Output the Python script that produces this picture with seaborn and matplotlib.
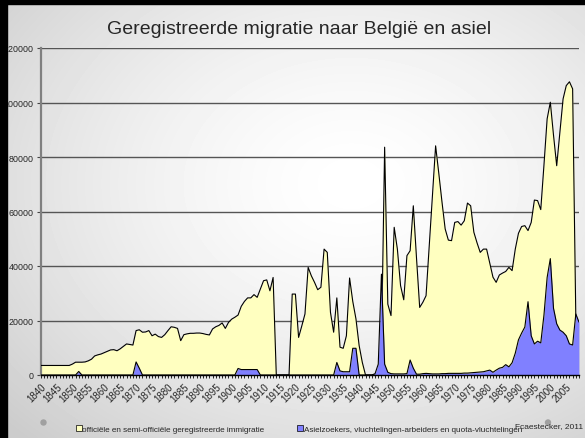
import numpy as np
import pandas as pd
import matplotlib
matplotlib.use("Agg")
import matplotlib.pyplot as plt
import seaborn as sns
from matplotlib.ticker import MultipleLocator
from matplotlib.patches import Patch, Rectangle, Ellipse

# jaren 1840-2009, waarden in duizendtallen
jaren = list(range(1840, 2010))

officieel = [
    3.5, 3.5, 3.5, 3.5, 3.5, 3.5, 3.5, 3.5, 3.5, 3.5,
    4.0, 4.7, 4.7, 4.7, 4.8, 5.2, 5.8, 7.0, 7.4, 7.7,
    8.2, 8.7, 9.2, 9.3, 8.9, 9.6, 10.5, 11.4, 11.2, 11.0,
    16.3, 16.6, 15.7, 15.8, 16.3, 14.4, 15.0, 14.1, 13.8, 14.8,
    16.3, 17.7, 17.5, 17.1, 12.6, 14.8, 15.1, 15.3, 15.3, 15.4,
    15.4, 15.2, 14.9, 14.7, 16.9, 17.7, 18.2, 19.1, 17.1, 19.3,
    20.5, 21.2, 22.0, 25.2, 27.0, 28.3, 28.3, 29.5, 28.5, 31.5,
    34.6, 34.9, 30.9, 35.8, 0, 0, 0, 0, 0, 29.7,
    29.7, 13.8, 18.0, 22.4, 39.5, 36.4, 34.0, 31.3, 32.2, 46.2,
    45.0, 23.0, 15.7, 28.3, 10.2, 9.8, 14.4, 35.6, 27.0, 20.6,
    10.8, 4.6, 0, 0, 0, 0, 0, 10.0, 83.6, 26.0,
    21.8, 54.2, 46.2, 32.8, 27.6, 43.8, 45.6, 62.1, 43.0, 24.8,
    26.7, 29.1, 47.4, 65.7, 84.1, 74.0, 63.5, 53.6, 49.5, 49.3,
    56.0, 56.3, 55.0, 56.6, 63.1, 62.1, 52.4, 48.5, 45.0, 46.2,
    46.2, 41.0, 35.9, 34.0, 36.7, 37.4, 38.0, 39.5, 38.3, 46.2,
    52.0, 54.5, 54.8, 53.0, 56.0, 64.2, 64.0, 60.7, 77.0, 94.0,
    100.1, 88.0, 76.8, 89.0, 101.3, 106.2, 107.6, 105.0, 21.0, 16.0,
]

asiel = [
    0, 0, 0, 0, 0, 0, 0, 0, 0, 0,
    0, 0, 1.3, 0, 0, 0, 0, 0, 0, 0,
    0, 0, 0, 0, 0, 0, 0, 0, 0, 0,
    4.8, 2.5, 0, 0, 0, 0, 0, 0, 0, 0,
    0, 0, 0, 0, 0, 0, 0, 0, 0, 0,
    0, 0, 0, 0, 0, 0, 0, 0, 0, 0,
    0, 0, 2.4, 2.0, 2.0, 2.0, 2.0, 2.0, 2.0, 0,
    0, 0, 0, 0, 0, 0, 0, 0, 0, 0,
    0, 0, 0, 0, 0, 0, 0, 0, 0, 0,
    0, 0, 0, 4.6, 1.5, 1.2, 1.2, 1.2, 9.8, 9.8,
    0, 0, 0, 0, 0, 0.5, 4.0, 37.0, 4.0, 1.0,
    0.5, 0.4, 0.4, 0.4, 0.4, 0.5, 5.5, 2.5, 0.3, 0.3,
    0.5, 0.6, 0.5, 0.4, 0.4, 0.4, 0.5, 0.5, 0.6, 0.6,
    0.6, 0.6, 0.6, 0.7, 0.7, 0.8, 0.9, 1.0, 1.1, 1.2,
    1.5, 1.8, 1.0, 1.8, 2.5, 2.8, 3.8, 3.0, 4.5, 8.0,
    12.9, 15.4, 17.6, 26.9, 14.4, 11.4, 12.4, 11.8, 22.0, 35.8,
    42.7, 24.5, 18.8, 16.5, 15.7, 14.4, 11.4, 11.0, 22.4, 19.4,
]

labels = ["officiële en semi-officiële geregistreerde immigratie",
          "Asielzoekers, vluchtelingen-arbeiders en quota-vluchtelingen"]
kleuren = ["#FFFFC0", "#8080FF"]

df = pd.DataFrame({"jaar": jaren,
                   "officieel": np.array(officieel) * 1000,
                   "asiel": np.array(asiel) * 1000})

sns.set_style("white")
plt.rcParams["font.family"] = ["Liberation Sans", "DejaVu Sans"]

W, H = 585, 439
fig = plt.figure(figsize=(W / 100, H / 100), dpi=100)

# slide achtergrond met grijze gradient
bg = fig.add_axes([0, 0, 1, 1], zorder=-5)
yy, xx = np.mgrid[0:H, 0:W]
r = np.sqrt(((xx / W - 0.6) / 0.8) ** 2 + ((yy / H - 0.42) / 0.8) ** 2)
grad = 1 - 0.2 * np.clip(r, 0, 1) ** 1.5
bg.imshow(grad, cmap="gray", vmin=0, vmax=1, aspect="auto")
bg.axis("off")

ax = fig.add_axes([40.5 / W, 63 / H, (579 - 40.5) / W, (376 - 49) / H])
ax.patch.set_alpha(0)

ax.fill_between(df["jaar"], 0, df["officieel"], color=kleuren[0], lw=0, zorder=2)
sns.lineplot(data=df, x="jaar", y="officieel", color="black", lw=0.8, ax=ax, zorder=3)
ax.fill_between(df["jaar"], 0, df["asiel"], color=kleuren[1], lw=0, zorder=4)
sns.lineplot(data=df, x="jaar", y="asiel", color="black", lw=0.8, ax=ax, zorder=5)

ax.set_xlim(1840, 2009)
ax.set_ylim(0, 120000)
ax.set_xlabel("")
ax.set_ylabel("")
ax.yaxis.set_major_locator(MultipleLocator(20000))
ax.xaxis.set_major_locator(MultipleLocator(5))
ax.xaxis.set_minor_locator(MultipleLocator(1))
ax.grid(axis="y", color="#555555", lw=1.0, zorder=1)
ax.set_axisbelow(True)

for s in ["top", "right"]:
    ax.spines[s].set_visible(False)
ax.spines["left"].set_color("#808080")
ax.spines["left"].set_linewidth(1.6)
ax.spines["bottom"].set_color("black")
ax.spines["bottom"].set_linewidth(1.0)
ax.spines["bottom"].set_zorder(6)

ax.tick_params(axis="y", which="major", left=True, length=3, width=0.8,
               color="#444444", labelsize=6.4, pad=2)
ax.tick_params(axis="x", which="both", bottom=True, length=2.5, width=0.6,
               color="black", labelsize=7, pad=2)
ax.set_yticklabels([f"{int(v)}" for v in ax.get_yticks()])
for t in ax.get_xticklabels():
    t.set_rotation(45)
    t.set_ha("right")
    t.set_rotation_mode("anchor")

# zwarte rand van de dia
fig.patches.append(Rectangle((0, 0), 7 / W, 1, transform=fig.transFigure,
                             color="black", zorder=10))
fig.patches.append(Rectangle((0, 1 - 5 / H), 1, 5 / H, transform=fig.transFigure,
                             color="black", zorder=10))

fig.text(299 / W, 1 - 30 / H, "Geregistreerde migratie naar België en asiel",
         ha="center", va="center", fontsize=14)

handles = [Patch(facecolor=k, edgecolor="black", lw=0.5) for k in kleuren]
fig.legend(handles, labels, loc="center left", bbox_to_anchor=(76 / W, 1 - 430 / H),
           ncol=2, frameon=False, fontsize=5.85, handlelength=0.7, handleheight=0.7,
           handletextpad=0.1, columnspacing=4.0, borderpad=0, borderaxespad=0)

for cx in [43.5, 548]:
    fig.patches.append(Ellipse((cx / W, 1 - 423.5 / H), 5 / W, 5 / H,
                               transform=fig.transFigure, color="#a0a0a0", zorder=3))
fig.text(583 / W, 1 - 427 / H, "Fcaestecker, 2011", ha="right", va="center", fontsize=6.0)

fig.savefig("out.png", dpi=100)
